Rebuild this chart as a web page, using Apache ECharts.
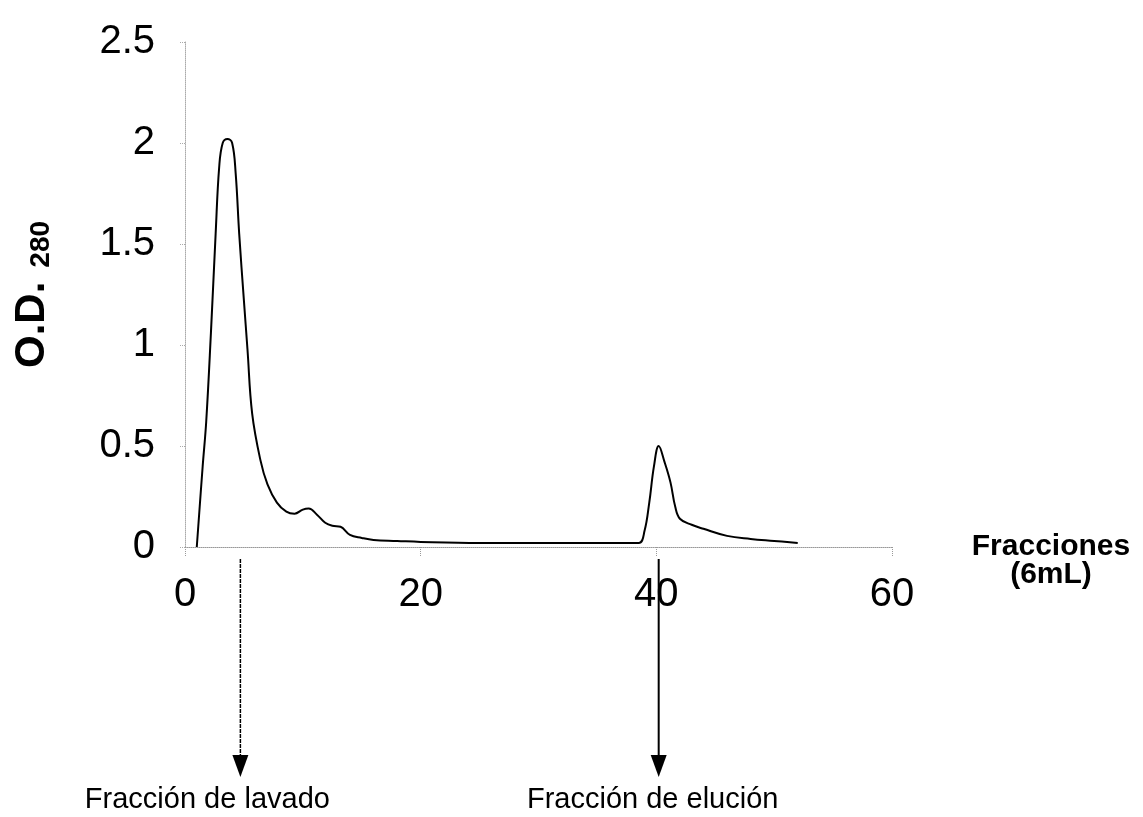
<!DOCTYPE html>
<html>
<head>
<meta charset="utf-8">
<title>O.D. 280 - Fracciones</title>
<script src="https://cdn.jsdelivr.net/npm/echarts@6/dist/echarts.min.js"></script>
<style>
    html, body { margin: 0; background: #fff; }
    #chart { width: 1143px; height: 817px; }
</style>
</head>
<body>
<div id="chart"></div>
<script>
// fraction number (6 mL each) and absorbance at 280 nm
const fraction = [1.0, 1.5, 1.8, 2.2, 2.6, 2.9, 3.2, 3.6, 4.0, 4.3, 4.6, 5.0, 5.3, 5.7, 6.4, 7.0, 7.8, 8.6, 9.3, 10.0,
    10.5, 11.2, 11.9, 12.5, 13.2, 14.0, 15.0, 16.0, 18.0, 20.0, 25.0, 30.0, 35.0, 38.5, 39.0, 39.4, 39.8, 40.2,
    40.7, 41.2, 41.6, 42.0, 43.0, 44.0, 46.0, 48.0, 50.0, 52.0]
const od = [0.0, 0.4, 0.62, 1.06, 1.55, 1.88, 2.0, 2.02, 2.0, 1.85, 1.55, 1.22, 0.98, 0.66, 0.43, 0.31, 0.22, 0.175, 0.165, 0.185,
    0.19, 0.16, 0.12, 0.105, 0.1, 0.06, 0.045, 0.035, 0.03, 0.025, 0.02, 0.02, 0.02, 0.02, 0.08, 0.22, 0.4, 0.5,
    0.42, 0.32, 0.2, 0.14, 0.11, 0.09, 0.055, 0.04, 0.03, 0.02]

const yTicks = [0, 0.5, 1, 1.5, 2, 2.5]
const xTicks = [0, 20, 40, 60]

// annotated fractions below the axis
const arrowFraction = [4.7, 40.2]
const arrowLabel = ['Fracción de lavado', 'Fracción de elución']

const FONT = '"Liberation Sans", Arial, sans-serif'

let chart = echarts.init(document.getElementById('chart'))
chart.setOption({
    animation: false,
    backgroundColor: '#fff',
    grid: {
        left: 185,
        right: 251,
        top: 42,
        bottom: 270,
    },
    xAxis: {
        type: 'value',
        min: xTicks[0],
        max: xTicks[xTicks.length - 1],
        interval: 20,
        // blank first line pushes the two text lines below the axis line
        name: '\nFracciones\n(6mL)',
        nameLocation: 'end',
        nameGap: 159,
        nameTextStyle: {
            fontFamily: FONT,
            fontWeight: 'bold',
            fontSize: 30,
            lineHeight: 28,
            color: '#000',
            align: 'center',
        },
        splitLine: { show: false },
        axisLine: { lineStyle: { color: '#999', type: 'dotted', width: 1 } },
        axisTick: { length: 10, lineStyle: { color: '#999', type: 'dotted' } },
        axisLabel: {
            margin: 28,
            fontFamily: FONT,
            fontSize: 40,
            color: '#000',
        },
    },
    yAxis: {
        type: 'value',
        min: yTicks[0],
        max: yTicks[yTicks.length - 1],
        interval: 0.5,
        name: '{a|O.D.}{b|280}',
        nameLocation: 'middle',
        nameGap: 130,
        nameTextStyle: {
            rich: {
                a: { fontFamily: FONT, fontWeight: 'bold', fontSize: 42, color: '#000', lineHeight: 46 },
                b: {
                    fontFamily: FONT, fontWeight: 'bold', fontSize: 28, color: '#000', lineHeight: 46,
                    verticalAlign: 'bottom', padding: [12, 0, 0, 14],
                },
            },
        },
        splitLine: { show: false },
        axisLine: { show: true, lineStyle: { color: '#aaa', type: 'dotted', width: 1 } },
        axisTick: { show: true, length: 5, lineStyle: { color: '#aaa', type: 'dotted' } },
        axisLabel: {
            margin: 30,
            fontFamily: FONT,
            fontSize: 40,
            color: '#000',
        },
    },
    series: [{
        type: 'line',
        data: fraction.map((f, i) => [f, od[i]]),
        showSymbol: false,
        smooth: 0.4,
        lineStyle: { color: '#000', width: 2 },
    }],
})

// arrows pointing from the axis down to the labels
let base = chart.convertToPixel({ gridIndex: 0 }, [0, 0])[1]
let labelShift = [-33, -6]
let graphics = []
arrowFraction.forEach((f, i) => {
    let x = chart.convertToPixel({ gridIndex: 0 }, [f, 0])[0]
    graphics.push({
        type: 'line',
        shape: { x1: x, y1: base + 12, x2: x, y2: base + 212 },
        style: { stroke: '#000', lineWidth: i === 0 ? 1.5 : 2, lineDash: i === 0 ? [4, 1] : null },
    })
    graphics.push({
        type: 'polygon',
        shape: { points: [[x - 8, base + 208], [x + 8, base + 208], [x, base + 230]] },
        style: { fill: '#000' },
    })
    graphics.push({
        type: 'text',
        x: x + labelShift[i],
        y: base + 253,
        style: {
            text: arrowLabel[i],
            font: '29px ' + FONT,
            fill: '#000',
            align: 'center',
            verticalAlign: 'middle',
        },
    })
})
chart.setOption({ graphic: graphics })
</script>
</body>
</html>
